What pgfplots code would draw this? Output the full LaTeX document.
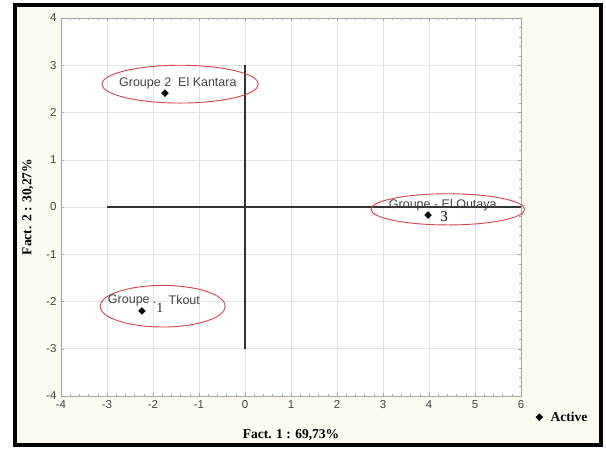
\documentclass[border=0pt]{standalone}
\usepackage{pgfplots}
\pgfplotsset{compat=1.18}
\usepackage{fontspec}
\setmainfont{Liberation Serif}
\setsansfont{Liberation Sans}
\definecolor{cream}{HTML}{FDFBF0}
\definecolor{ellred}{HTML}{D2454F}
\definecolor{txtgray}{HTML}{444444}
\definecolor{navy}{HTML}{1F2A50}
\begin{document}
\begin{tikzpicture}[x=1pt,y=1pt]
\path[fill=white] (0,0) rectangle (606,450);
\path[fill=cream,draw=black,line width=4pt] (15,5) rectangle (601,445);
\begin{axis}[
  at={(61pt,54pt)}, anchor=south west,
  scale only axis, width=460pt, height=378pt,
  xmin=-4, xmax=6, ymin=-4, ymax=4,
  xtick={-4,...,6}, ytick={-4,...,4},
  minor x tick num=4, minor y tick num=4,
  minor tick length=1.5pt, major tick length=3pt,
  tick style={color=gray!70},
  tick align=inside,
  grid=major, major grid style={color=gray!22, line width=0.5pt},
  axis line style={color=gray!70, line width=0.8pt},
  axis background/.style={fill=white},
  ticklabel style={font=\sffamily\fontsize{11.5}{13}\selectfont, text=txtgray},
  /pgf/number format/assume math mode=true,
  xticklabel style={yshift=-1pt},
  yticklabel style={xshift=-1pt},
  xlabel={\textbf{Fact. 1 : 69,73\%}},
  ylabel={\textbf{Fact. 2 : 30,27\%}},
  label style={font=\fontsize{13.5}{15}\selectfont},
  xlabel style={at={(axis description cs:0.5,-0.103)}, anchor=center},
  ylabel style={at={(axis description cs:-0.072,0.5)}, anchor=center},
  legend style={at={(rel axis cs:1.032,-0.056)}, anchor=west, draw=none, fill=none,
    inner xsep=0pt, font=\bfseries\fontsize{13.5}{15}\selectfont,
    /tikz/every odd column/.append style={column sep=6pt}},
  legend cell align=left,
  clip=false,
]
\addplot[draw=black!80, line width=1.1pt, forget plot] coordinates {(-3,0) (6,0)};
\addplot[draw=black!80, line width=1.1pt, forget plot] coordinates {(0,-3) (0,3)};
\addplot[only marks, mark=square*, mark size=2.4pt, mark options={rotate=45}, color=black] coordinates {
  (-1.74,2.41) (3.98,-0.17) (-2.24,-2.20)};
\addlegendentry{Active}
\draw[ellred, line width=0.9pt] (axis cs:-1.41,2.60) ellipse [x radius=1.70, y radius=0.40];
\draw[ellred, line width=0.9pt] (axis cs:4.41,-0.05) ellipse [x radius=1.67, y radius=0.33];
\draw[ellred, line width=0.9pt] (axis cs:-1.79,-2.10) ellipse [x radius=1.36, y radius=0.44];
\node[font=\sffamily\fontsize{12.5}{14}\selectfont, text=txtgray] at (axis cs:-1.46,2.62) {Groupe 2\ \ El Kantara};
\node[font=\sffamily\fontsize{12.5}{14}\selectfont, text=txtgray] at (axis cs:4.30,0.04) {Groupe - El Outaya};
\node[font=\fontsize{15}{16}\selectfont] at (axis cs:4.33,-0.20) {3};
\node[font=\sffamily\fontsize{12.5}{14}\selectfont, text=txtgray] at (axis cs:-2.45,-1.97) {Groupe .};
\node[font=\fontsize{14}{15}\selectfont, text=navy] at (axis cs:-1.85,-2.14) {1};
\node[font=\sffamily\fontsize{12.5}{14}\selectfont, text=txtgray] at (axis cs:-1.32,-1.97) {Tkout};
\end{axis}
\end{tikzpicture}
\end{document}
